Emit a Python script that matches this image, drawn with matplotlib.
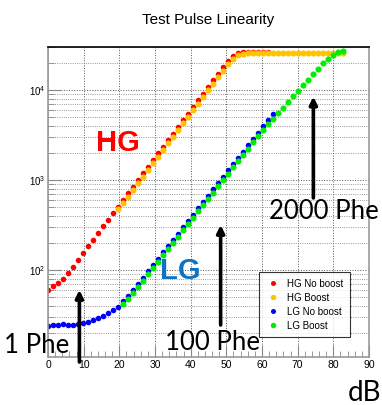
import matplotlib
matplotlib.use("Agg")
import matplotlib.pyplot as plt
from matplotlib.ticker import LogLocator, MultipleLocator, NullFormatter

plt.rcParams['font.family'] = ['Liberation Sans', 'DejaVu Sans']

# --- attenuation steps (dB), shared by all four series ---
db_steps = [0, 1.4, 2.8, 4.2, 5.6, 7, 8.4, 9.8, 11.2, 12.6, 14, 15.4, 16.8, 18.2, 19.6,
            21, 22.4, 23.8, 25.2, 26.6, 28, 29.4, 30.8, 32.2, 33.6, 35, 36.4, 37.8, 39.2,
            40.6, 42, 43.4, 44.8, 46.2, 47.6, 49, 50.4, 51.8, 53.2, 54.6, 56, 57.4, 58.8,
            60.2, 61.6, 63, 64.4, 65.8, 67.2, 68.6, 70, 71.4, 72.8, 74.2, 75.6, 77, 78.4,
            79.8, 81.2, 82.6]

# --- values ---
hg_noboost = [60, 66, 71, 80, 92, 108, 130, 155, 183, 217, 257, 305, 361, 428, 507,
              601, 712, 844, 1000, 1185, 1404, 1664, 1972, 2336, 2768, 3280, 3886, 4604,
              5455, 6463, 7658, 9073, 10750, 12740, 15090, 17880, 21000, 23800, 25400,
              26100, 26400, 26500, 26500, 26500, 26500]
hg_boost = [470, 555, 655, 775, 920, 1090, 1290, 1530, 1815, 2150, 2550, 3020, 3580,
            4240, 5020, 5950, 7050, 8350, 9900, 11700, 13900, 16400, 19300, 22200, 24200,
            25200] + [25500] * 20
lg_noboost = [24, 24.5, 24.3, 25, 24.5, 24.5, 25, 26, 26.7, 27.9, 29, 30.8, 33, 36, 39,
              45, 51, 59.5, 70, 82, 96.6, 113.5, 133, 157, 184, 216, 254, 299, 351, 412,
              484, 569, 668, 785, 922, 1084, 1274, 1496, 1758, 2065, 2427, 2851, 3350,
              3936, 4624, 5433]
lg_boost = [42, 48, 55.5, 65, 76, 89.5, 105, 123, 145, 170, 200, 235, 276, 324, 381,
            447, 525, 617, 725, 852, 1000, 1175, 1380, 1620, 1900, 2230, 2620, 3070,
            3600, 4150, 4800, 5500, 6350, 7350, 8500, 9800, 11300, 13000, 15000, 17300,
            19800, 22300, 24500, 26200, 27000]

x_hg_nb = db_steps[0:45]
x_hg_b = db_steps[14:60]
x_lg_nb = db_steps[0:46]
x_lg_b = db_steps[15:60]

fig = plt.figure(figsize=(3.82, 4.05), dpi=100)
ax = fig.add_axes([0.1257, 0.1185, 0.8403, 0.7655])

ax.plot(x_hg_nb, hg_noboost, 'o', color='#ff0000', ms=4.0, mec='none', label='HG No boost')
ax.plot(x_hg_b, hg_boost, 'o', color='#ffc400', ms=4.4, mec='none', label='HG Boost')
ax.plot(x_lg_nb, lg_noboost, 'o', color='#0000ff', ms=4.0, mec='none', label='LG No boost')
ax.plot(x_lg_b, lg_boost, 'o', color='#00ee00', ms=4.4, mec='none', label='LG Boost')

ax.set_yscale('log')
ax.set_xlim(0, 90)
ax.set_ylim(10.8, 30000)

ax.xaxis.set_major_locator(MultipleLocator(10))
ax.xaxis.set_minor_locator(MultipleLocator(2))
ax.yaxis.set_major_locator(LogLocator(base=10, numticks=10))
ax.yaxis.set_minor_locator(LogLocator(base=10, subs=range(2, 10), numticks=10))
ax.yaxis.set_minor_formatter(NullFormatter())
ax.tick_params(which='both', direction='in', labelsize=7.5, colors='#888888', labelcolor='black')
ax.tick_params(which='major', length=9, width=0.8)
ax.tick_params(which='minor', length=4, width=0.6)
ax.tick_params(axis='x', pad=2)
ax.tick_params(axis='y', pad=2, labelsize=7)

ax.grid(True, which='major', ls=':', lw=0.7, color='#555555')
ax.grid(True, which='minor', axis='y', ls=':', lw=0.6, color='#777777')
ax.set_axisbelow(True)
for s in ax.spines.values():
    s.set_color('#999999')
    s.set_linewidth(1.2)
ax.spines['top'].set_color('black')

fig.text(0.545, 0.95, 'Test Pulse Linearity', ha='center', va='center', fontsize=11)
fig.text(0.997, 0.03, 'dB', ha='right', va='center', fontsize=20, family=['Lato', 'DejaVu Sans'])

ax.text(19.7, 2570, 'HG', color='#ff0000', fontsize=21, fontweight='bold', ha='center', va='center')
ax.text(37, 97, 'LG', color='#0b72c4', fontsize=21, fontweight='bold', ha='center', va='center')

phe_font = ['Lato', 'DejaVu Sans']
fig.text(0.097, 0.148, '1 Phe', ha='center', va='center', fontsize=18.5, family=phe_font)
ax.text(46.2, 15.6, '100 Phe', ha='center', va='center', fontsize=18.5, family=phe_font)
ax.text(77.4, 441, '2000 Phe', ha='center', va='center', fontsize=18.5, family=phe_font)

arrow = dict(arrowstyle='-|>', lw=2.6, color='black', mutation_scale=11, shrinkA=0, shrinkB=0)
ax.annotate('', xy=(8.8, 60), xytext=(8.8, 9.5), arrowprops=arrow, annotation_clip=False)
ax.annotate('', xy=(48.4, 316), xytext=(48.4, 24.5), arrowprops=arrow)
ax.annotate('', xy=(74.4, 8430), xytext=(74.4, 631), arrowprops=arrow)

leg = ax.legend(loc='upper right', bbox_to_anchor=(0.941, 0.274), fontsize=7, frameon=True,
                fancybox=False, edgecolor='black', handletextpad=0.6, borderpad=0.7,
                labelspacing=0.4, markerscale=0.9, handlelength=1.6, borderaxespad=0)
leg.get_frame().set_linewidth(0.8)

fig.savefig('out.png', dpi=100)
